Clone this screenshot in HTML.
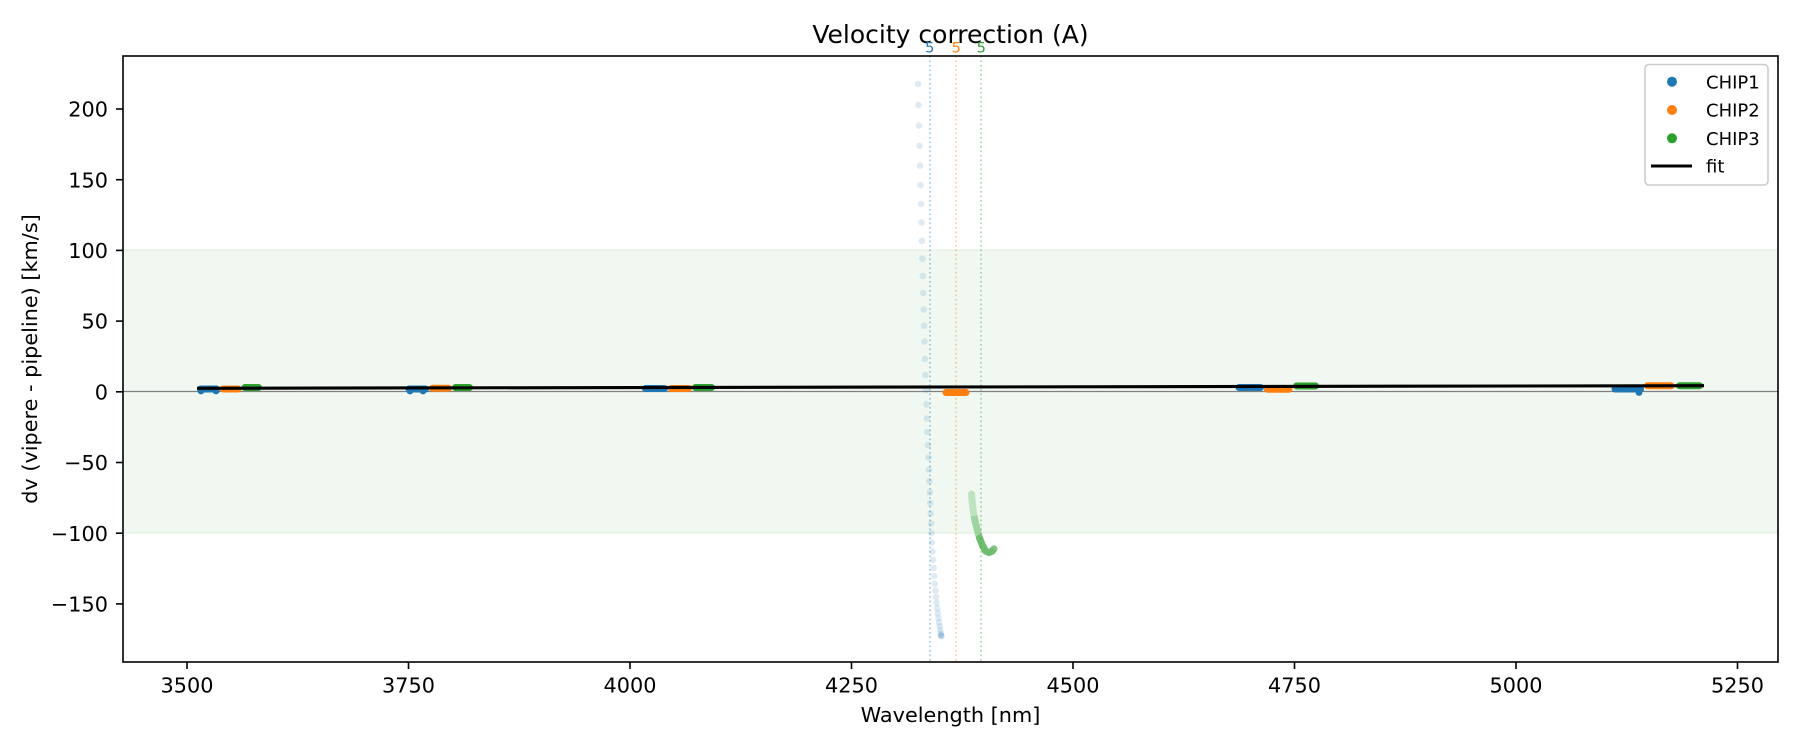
<!DOCTYPE html>
<html>
<head>
<meta charset="utf-8">
<style>
  html, body { margin: 0; padding: 0; background: #ffffff; }
  svg { display: block; }
  text { font-family: "DejaVu Sans", "Liberation Sans", sans-serif; fill: #000; }
</style>
</head>
<body>
<svg width="1800" height="750" viewBox="0 0 1800 750" xmlns="http://www.w3.org/2000/svg">
  <rect x="0" y="0" width="1800" height="750" fill="#ffffff"/>
  <defs>
    <clipPath id="ax"><rect x="123" y="56" width="1655" height="606"/></clipPath>
  </defs>

  <g clip-path="url(#ax)">
    <!-- green band -100..100 -->
    <rect x="123" y="250" width="1655" height="283" fill="#f1f8f1" stroke="#e3f0e3" stroke-width="1.2"/>
    <!-- zero line -->
    <line x1="123" y1="391.5" x2="1778" y2="391.5" stroke="#808080" stroke-width="1.3"/>

    <!-- blue column (CHIP1 outliers) -->
    <g fill="#1f77b4" fill-opacity="0.15">
      <circle cx="918" cy="84" r="3.3"/><circle cx="918.5" cy="105" r="3.3"/><circle cx="919" cy="125.6" r="3.3"/>
      <circle cx="919.5" cy="145.8" r="3.3"/><circle cx="920" cy="165.6" r="3.3"/><circle cx="920.5" cy="185" r="3.3"/>
      <circle cx="921" cy="204" r="3.3"/><circle cx="921.5" cy="222.6" r="3.3"/><circle cx="921.9" cy="240.8" r="3.3"/>
      <circle cx="922.4" cy="258.6" r="3.3"/><circle cx="922.8" cy="276" r="3.3"/><circle cx="923.2" cy="293" r="3.3"/>
      <circle cx="923.7" cy="309.6" r="3.3"/><circle cx="924.1" cy="325.8" r="3.3"/><circle cx="924.5" cy="341.6" r="3.3"/>
      <circle cx="924.9" cy="359" r="3.3"/><circle cx="925.4" cy="375" r="3.3"/><circle cx="925.9" cy="390" r="3.3"/>
      <circle cx="926.4" cy="404.5" r="3.3"/><circle cx="926.9" cy="418.5" r="3.3"/><circle cx="927.4" cy="432" r="3.3"/>
      <circle cx="927.9" cy="445" r="3.3"/><circle cx="928.4" cy="457.6" r="3.3"/><circle cx="928.8" cy="469.5" r="3.3"/>
      <circle cx="929.3" cy="481" r="3.3"/><circle cx="929.8" cy="492.5" r="3.3"/><circle cx="930.2" cy="503" r="3.3"/>
      <circle cx="930.7" cy="513.5" r="3.3"/><circle cx="931.1" cy="523.5" r="3.3"/><circle cx="931.5" cy="533" r="3.3"/>
      <circle cx="931.9" cy="542.5" r="3.3"/><circle cx="932.4" cy="551.5" r="3.3"/><circle cx="933" cy="560" r="3.3"/>
      <circle cx="933.6" cy="568" r="3.3"/><circle cx="934.2" cy="576" r="3.3"/><circle cx="934.8" cy="583.5" r="3.3"/>
      <circle cx="935.4" cy="590.5" r="3.3"/><circle cx="936" cy="597" r="3.3"/><circle cx="936.6" cy="602.8" r="3.3"/>
      <circle cx="937.2" cy="608.2" r="3.3"/><circle cx="937.7" cy="613.2" r="3.3"/><circle cx="938.4" cy="618" r="3.3"/>
      <circle cx="939.1" cy="622.4" r="3.3"/><circle cx="939.7" cy="626.4" r="3.3"/><circle cx="940.2" cy="630" r="3.3"/>
      <circle cx="940.7" cy="633" r="3.3"/><circle cx="941" cy="635" r="3.3"/><circle cx="941.3" cy="636" r="3.3"/>
      <circle cx="941.3" cy="636" r="3.3"/>
    </g>

    <!-- green curve (CHIP3 outliers) -->
    <g fill="none" stroke="#2ca02c" stroke-linejoin="round">
      <path d="M971.5,494 L972.5,505 L974,516 L976.5,527 L979.5,538 L982.5,545.5 L985.5,551 L989,552.5 L992,551.3 L994,548.8" stroke-width="7" stroke-opacity="0.25" stroke-linecap="round"/>
      <path d="M974,516 L976.5,527 L979.5,538 L982.5,545.5 L985.5,551 L989,552.5 L992,551.3 L994,548.8" stroke-width="7" stroke-opacity="0.22" stroke-linecap="butt"/>
      <path d="M979.5,538 L982.5,545.5 L985.5,551 L989,552.5 L992,551.3 L994,548.8" stroke-width="7" stroke-opacity="0.45" stroke-linecap="round"/>
    </g>

    <!-- clusters -->
    <g stroke-linecap="round" stroke-width="7" fill="none">
      <!-- CHIP1 -->
      <g stroke="#1f77b4">
        <line x1="200.5" y1="389" x2="216.5" y2="389"/>
        <line x1="409" y1="389" x2="425.5" y2="389"/>
        <line x1="645.5" y1="388.5" x2="664.5" y2="388.5"/>
        <line x1="1239" y1="387.5" x2="1260.5" y2="387.5"/>
        <line x1="1615" y1="389" x2="1640.5" y2="389"/>
      </g>
      <g fill="#1f77b4" stroke="none">
        <circle cx="201" cy="391" r="3.4"/><circle cx="216" cy="391" r="3.4"/>
        <circle cx="410" cy="391" r="3.4"/><circle cx="423" cy="391" r="3.4"/>
        <circle cx="1639" cy="392.5" r="3.4"/>
      </g>
      <!-- CHIP2 -->
      <g stroke="#ff7f0e">
        <line x1="223.5" y1="389" x2="238" y2="389"/>
        <line x1="432.5" y1="388.3" x2="448.5" y2="388.3"/>
        <line x1="671.5" y1="388.5" x2="688.5" y2="388.5"/>
        <line x1="946" y1="392.5" x2="966" y2="392.5"/>
        <line x1="1267.5" y1="389.3" x2="1289" y2="389.3"/>
        <line x1="1647.5" y1="385.8" x2="1671" y2="385.8"/>
      </g>
      <!-- CHIP3 -->
      <g stroke="#2ca02c">
        <line x1="245" y1="387.5" x2="258.5" y2="387.5"/>
        <line x1="455.5" y1="387.5" x2="469.5" y2="387.5"/>
        <line x1="695.5" y1="387.5" x2="711.5" y2="387.5"/>
        <line x1="1296.5" y1="386" x2="1315.5" y2="386"/>
        <line x1="1679.5" y1="385.7" x2="1699.5" y2="385.7"/>
      </g>
    </g>

    <!-- dotted vertical lines -->
    <line x1="930" y1="56" x2="930" y2="662" stroke="#1f77b4" stroke-opacity="0.5" stroke-width="1.4" stroke-dasharray="1.6 2.9"/>
    <line x1="956" y1="56" x2="956" y2="662" stroke="#ff7f0e" stroke-opacity="0.5" stroke-width="1.4" stroke-dasharray="1.6 2.9"/>
    <line x1="981" y1="56" x2="981" y2="662" stroke="#2ca02c" stroke-opacity="0.5" stroke-width="1.4" stroke-dasharray="1.6 2.9"/>

    <!-- fit line -->
    <line x1="197" y1="388.3" x2="1704" y2="385.7" stroke="#000000" stroke-width="3.1"/>
  </g>

  <!-- axes frame -->
  <rect x="123" y="56" width="1655" height="606" fill="none" stroke="#000" stroke-width="1.6"/>

  <!-- y ticks -->
  <g stroke="#000" stroke-width="1.6">
    <line x1="116" y1="109" x2="123" y2="109"/>
    <line x1="116" y1="179.7" x2="123" y2="179.7"/>
    <line x1="116" y1="250.4" x2="123" y2="250.4"/>
    <line x1="116" y1="321.1" x2="123" y2="321.1"/>
    <line x1="116" y1="391.8" x2="123" y2="391.8"/>
    <line x1="116" y1="462.5" x2="123" y2="462.5"/>
    <line x1="116" y1="533.2" x2="123" y2="533.2"/>
    <line x1="116" y1="603.9" x2="123" y2="603.9"/>
  </g>
  <g font-size="20.8" text-anchor="end">
    <text x="108" y="116.6">200</text>
    <text x="108" y="187.3">150</text>
    <text x="108" y="258">100</text>
    <text x="108" y="328.7">50</text>
    <text x="108" y="399.4">0</text>
    <text x="108" y="470.1">−50</text>
    <text x="108" y="540.8">−100</text>
    <text x="108" y="611.5">−150</text>
  </g>

  <!-- x ticks -->
  <g stroke="#000" stroke-width="1.6">
    <line x1="187" y1="662" x2="187" y2="669"/>
    <line x1="408.5" y1="662" x2="408.5" y2="669"/>
    <line x1="630" y1="662" x2="630" y2="669"/>
    <line x1="851.5" y1="662" x2="851.5" y2="669"/>
    <line x1="1073" y1="662" x2="1073" y2="669"/>
    <line x1="1294.5" y1="662" x2="1294.5" y2="669"/>
    <line x1="1516" y1="662" x2="1516" y2="669"/>
    <line x1="1737.5" y1="662" x2="1737.5" y2="669"/>
  </g>
  <g font-size="20.8" text-anchor="middle">
    <text x="187" y="692.3">3500</text>
    <text x="408.5" y="692.3">3750</text>
    <text x="630" y="692.3">4000</text>
    <text x="851.5" y="692.3">4250</text>
    <text x="1073" y="692.3">4500</text>
    <text x="1294.5" y="692.3">4750</text>
    <text x="1516" y="692.3">5000</text>
    <text x="1737.5" y="692.3">5250</text>
  </g>

  <!-- labels -->
  <text x="950.5" y="722" font-size="20.8" text-anchor="middle">Wavelength [nm]</text>
  <text transform="translate(37,359) rotate(-90)" font-size="20.8" text-anchor="middle">dv (vipere - pipeline) [km/s]</text>
  <text x="950.5" y="43" font-size="25" text-anchor="middle">Velocity correction (A)</text>

  <!-- "5" labels -->
  <g font-size="14.6" text-anchor="middle">
    <text x="929.8" y="52.7" style="fill:#1f77b4">5</text>
    <text x="956.3" y="52.7" style="fill:#ff7f0e">5</text>
    <text x="981.3" y="52.7" style="fill:#2ca02c">5</text>
  </g>

  <!-- legend -->
  <rect x="1645" y="64.5" width="123" height="120.5" rx="4" ry="4" fill="#ffffff" fill-opacity="0.8" stroke="#cccccc" stroke-width="1.6"/>
  <circle cx="1672" cy="81.7" r="5" fill="#1f77b4"/>
  <circle cx="1672" cy="110" r="5" fill="#ff7f0e"/>
  <circle cx="1672" cy="138.3" r="5" fill="#2ca02c"/>
  <line x1="1651" y1="166" x2="1692" y2="166" stroke="#000" stroke-width="3.1"/>
  <g font-size="18">
    <text x="1706" y="88.3">CHIP1</text>
    <text x="1706" y="116.7">CHIP2</text>
    <text x="1706" y="145">CHIP3</text>
    <text x="1706" y="172.3">fit</text>
  </g>
</svg>
</body>
</html>
